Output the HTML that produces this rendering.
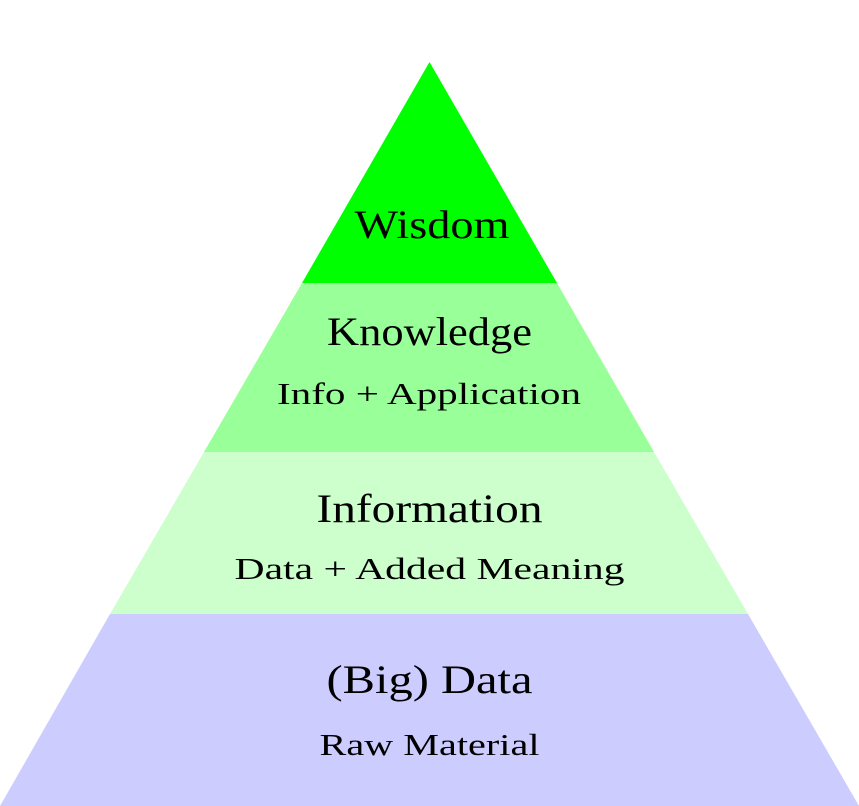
<!DOCTYPE html>
<html><head><meta charset="utf-8"><style>html,body{margin:0;padding:0;background:#fff}svg{display:block}</style></head>
<body>
<svg width="859" height="806" viewBox="0 0 859 806" xmlns="http://www.w3.org/2000/svg">
<polygon points="429.5,62 557,283 302,283" fill="#00ff00"/>
<polygon points="302,283 557,283 654,452 204,452" fill="#99ff99"/>
<polygon points="204,452 654,452 748,614 110,614" fill="#ccffcc"/>
<polygon points="110,614 748,614 859,806 0,806" fill="#ccccff"/>
<g font-family="'Liberation Serif', serif" fill="#000" text-anchor="middle">
<text x="432" y="238" font-size="40" textLength="155" lengthAdjust="spacingAndGlyphs">Wisdom</text>
<text x="429.5" y="345" font-size="40" textLength="205" lengthAdjust="spacingAndGlyphs">Knowledge</text>
<text x="429" y="404" font-size="31" textLength="304" lengthAdjust="spacingAndGlyphs">Info + Application</text>
<text x="429.5" y="522" font-size="40" textLength="226" lengthAdjust="spacingAndGlyphs">Information</text>
<text x="429.5" y="579" font-size="31" textLength="390" lengthAdjust="spacingAndGlyphs">Data + Added Meaning</text>
<text x="429.5" y="693" font-size="40" textLength="206" lengthAdjust="spacingAndGlyphs">(Big) Data</text>
<text x="429.5" y="755" font-size="31" textLength="220" lengthAdjust="spacingAndGlyphs">Raw Material</text>
</g>
</svg>
</body></html>
